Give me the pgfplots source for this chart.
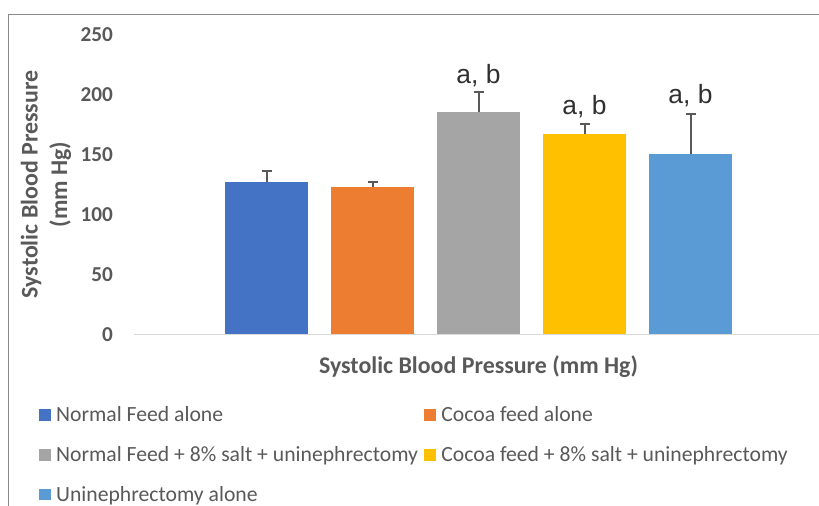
\documentclass[border=0pt]{standalone}
\usepackage{pgfplots}
\pgfplotsset{compat=1.18}
\usepackage{fontspec}
\setmainfont{Carlito}
\newfontfamily\arialf{Liberation Sans}
\definecolor{cBlue}{HTML}{4472C4}
\definecolor{cOrange}{HTML}{ED7D31}
\definecolor{cGray}{HTML}{A5A5A5}
\definecolor{cYellow}{HTML}{FFC000}
\definecolor{cLBlue}{HTML}{5B9BD5}
\definecolor{txt}{HTML}{595959}
\definecolor{errc}{HTML}{595959}
\definecolor{axc}{HTML}{D9D9D9}
\definecolor{framec}{HTML}{898989}
\definecolor{abc}{HTML}{303030}
\pgfplotsset{myerr/.style={draw=none,
  error bars/y dir=plus, error bars/y explicit,
  error bars/error bar style={errc, line width=2bp},
  error bars/error mark options={rotate=90, mark size=5bp, line width=2bp, errc}}}
\begin{document}
\begin{tikzpicture}[x=1bp,y=1bp]
% picture spans px (0..819, 0..506); axis origin (data 0,0) is at px (160.5, 334.5)
\path[use as bounding box] (-160.5,-171.5) rectangle (658.5,334.5);
\draw[framec, line width=1bp] (-152.2,-190) -- (-152.2,319.5) -- (680,319.5);
\begin{axis}[
  at={(0,0)}, anchor=origin,
  scale only axis, width=689bp, height=300bp,
  xmin=-0.25, xmax=6.25, ymin=0, ymax=250,
  ybar, bar width=83bp, bar shift=0pt,
  axis x line*=bottom, axis y line*=left,
  x axis line style={axc, line width=1.5bp},
  y axis line style={draw=none},
  xtick=\empty, ytick={0,50,...,250},
  major tick length=0pt,
  /pgf/number format/assume math mode=true,
  yticklabel style={font=\bfseries\fontsize{21.3}{25}\selectfont, text=txt, inner xsep=0pt, xshift=-21bp},
  xlabel={Systolic Blood Pressure (mm Hg)},
  xlabel style={at={(axis description cs:0.5,0)}, anchor=center, yshift=-32bp, font=\bfseries\fontsize{24}{28}\selectfont, text=txt},
  ylabel={Systolic Blood Pressure\\(mm Hg)},
  ylabel style={at={(axis description cs:0,0.5)}, anchor=center, yshift=88bp, align=center, font=\bfseries\fontsize{24}{29.5}\selectfont, text=txt},
  legend columns=2,
  legend image code/.code={\fill[#1] (0bp,-7.5bp) rectangle (11.7bp,4.2bp);},
  legend style={at={(-0.13788,-0.231)}, anchor=north west, draw=none, fill=none,
    inner sep=0pt, outer sep=0pt, column sep=0pt, row sep=20bp,
    nodes={inner sep=0pt},
    font=\fontsize{21.75}{26}\selectfont, text=txt,
    /tikz/every odd column/.append style={column sep=5.5bp}},
  legend cell align=left,
]
\addplot[fill=cBlue, myerr] coordinates {(1,127) +- (0,9.5)};
\addlegendentry{\makebox[368bp][l]{\strut Normal Feed alone}}
\addplot[fill=cOrange, myerr] coordinates {(2,122.7) +- (0,4.6)};
\addlegendentry{\strut Cocoa feed alone}
\addplot[fill=cGray, myerr] coordinates {(3,185) +- (0,17)};
\addlegendentry{\makebox[368bp][l]{\strut Normal Feed + 8\% salt + uninephrectomy}}
\addplot[fill=cYellow, myerr] coordinates {(4,167) +- (0,8.3)};
\addlegendentry{\strut Cocoa feed + 8\% salt + uninephrectomy}
\addplot[fill=cLBlue, myerr] coordinates {(5,150) +- (0,34)};
\addlegendentry{\strut Uninephrectomy alone}
\node[anchor=base, yshift=8.5bp, font=\arialf\fontsize{26.5}{30}\selectfont, text=abc] at (axis cs:3,202) {a, b};
\node[anchor=base, yshift=10bp, font=\arialf\fontsize{26.5}{30}\selectfont, text=abc] at (axis cs:4,175.3) {a, b};
\node[anchor=base, yshift=10bp, font=\arialf\fontsize{26.5}{30}\selectfont, text=abc] at (axis cs:5,184) {a, b};
\end{axis}
\end{tikzpicture}
\end{document}
